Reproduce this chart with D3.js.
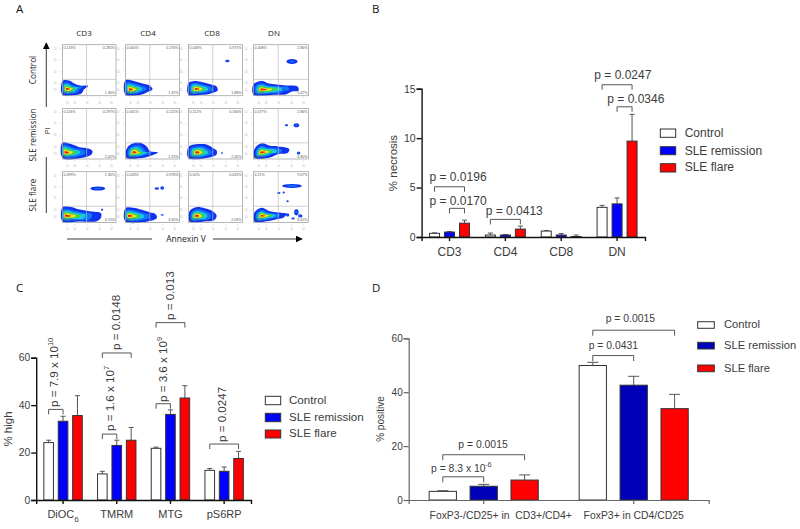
<!DOCTYPE html>
<html><head><meta charset="utf-8">
<script src="https://cdnjs.cloudflare.com/ajax/libs/d3/7.8.5/d3.min.js"></script>
<style>html,body{margin:0;padding:0;background:#fff}svg{display:block}text{font-family:"Liberation Sans",Arial,sans-serif}</style>
</head><body><svg id="c" width="800" height="529"></svg>
<script>
const series = ["Control","SLE remission","SLE flare"];

// Panel B
const bGroups = ["CD3","CD4","CD8","DN"];
const bValues = [[0.37,0.5,1.4],[0.2,0.2,0.8],[0.6,0.2,0.05],[3.0,3.35,9.7]];
const bErrors = [[0.42,0.55,1.7],[0.4,0.25,1.1],[0.65,0.35,0.2],[3.2,3.95,12.4]];
const bTicks = [0,5,10,15];
const bBrackets = [
 ["CD3",0,2,5.08,"p = 0.0196"],["CD3",1,2,2.9,"p = 0.0170"],["CD4",0,2,1.78,"p = 0.0413"],
 ["DN",0,2,15.4,"p = 0.0247"],["DN",1,2,13.17,"p = 0.0346"]];

// Panel C
const cGroups = ["DiOC","TMRM","MTG","pS6RP"];
const cValues = [[24.2,33.2,35.6],[11,23,25.2],[21.8,36.1,43],[12.5,12.1,17.5]];
const cErrors = [[25.2,35.3,44],[12.1,25.2,30.6],[22.3,38,48.2],[13.3,13.9,20.5]];
const cTicks = [0,20,40,60];
const cBrackets = [
 ["DiOC",0,1,38.2,"p = 7.9 x 10","10"],["TMRM",0,1,27.8,"p = 1.6 x 10","7"],["TMRM",0,2,62,"p = 0.0148",""],
 ["MTG",0,1,40.6,"p = 3.6 x 10","9"],["MTG",0,2,74.8,"p = 0.013",""],["pS6RP",0,2,23.6,"p = 0.0247",""]];

// Panel D
const dGroups = ["FoxP3-/CD25+ in  CD3+/CD4+","FoxP3+ in CD4/CD25"];
const dValues = [[3.2,5.1,7.4],[49.9,42.6,33.9]];
const dErrors = [[3.45,5.8,9.3],[51.1,45.9,39.2]];
const dTicks = [0,20,40,60];
const dBrackets = [
 [dGroups[0],0,2,16.8,"p = 0.0015",""],[dGroups[0],0,1,8.6,"p = 8.3 x 10","-6"],
 [dGroups[1],0,2,63,"p = 0.0015",""],[dGroups[1],0,1,53.6,"p = 0.0431",""]];

// Panel A
const aCols = ["CD3","CD4","CD8","DN"];
const aRows = ["Control","SLE remission","SLE flare"];
const aPercents = [
 [["0.133%","0.282%","1.36%","98.2%"],["0.060%","0.276%","1.32%","98.3%"],["0.048%","0.971%","1.88%","97.1%"],["0.408%","2.86%","5.47%","91.3%"]],
 [["0.116%","0.297%","2.02%","97.7%"],["0.061%","0.225%","1.19%","98.6%"],["0.112%","0.166%","2.30%","97.4%"],["0.477%","2.86%","6.80%","89.9%"]],
 [["0.099%","1.36%","3.70%","94.9%"],["0.028%","0.976%","3.30%","96.2%"],["0.00%","0.032%","2.03%","97.9%"],["4.21%","9.07%","8.42%","78.3%"]]];
const aOutlines = [
 [[[0,29],[12,30],[22,24],[33,20],[48,19],[40,12],[36,5],[28,2],[0,2]],
  [[0,31],[12,30],[25,26],[35,23],[45,20],[50,12],[40,7],[28,2],[0,2]],
  [[0,25],[12,29],[28,26],[42,22],[52,18],[54,10],[40,4],[25,2],[0,2]],
  [[0,22],[15,29],[28,24],[42,22],[60,20],[80,18],[82,10],[70,8],[60,3],[40,2],[0,2]]],
 [[[0,33],[15,30],[30,24],[48,21],[56,16],[54,9],[40,3],[0,2]],
  [[2,20],[12,30],[28,32],[40,24],[45,16],[60,13],[45,6],[30,2],[2,2]],
  [[0,24],[14,29],[32,29],[45,22],[52,17],[52,9],[38,3],[0,2]],
  [[2,20],[15,31],[30,26],[45,25],[65,20],[62,12],[45,10],[30,3],[2,2]]],
 [[[0,30],[14,31],[30,26],[50,22],[72,18],[72,10],[65,3],[30,2],[0,2]],
  [[0,28],[14,29],[30,25],[45,20],[56,16],[58,9],[45,3],[0,2]],
  [[2,22],[14,30],[30,28],[45,22],[52,14],[48,5],[30,2],[2,2]],
  [[2,20],[15,29],[30,22],[50,19],[60,17],[55,10],[40,6],[28,3],[2,2]]]];
const aHot = [[[8,13],[8,12],[14,13],[15,12]],[[5,13],[15,13],[15,13],[14,13]],[[6,13],[6,13],[14,13],[15,13]]];
const aBlobs = [
 [[],[],[[72,68,4,2.5]],[[70,67,10,5]]],
 [[],[],[[62,12,2,1.5]],[[60,67,3,2],[78,67,5,4],[82,12,3,3]]],
 [[[66,67,14,4],[74,25,2,2]],[[58,67,4,2.5],[68,68,3.5,3.5],[68,15,3,1]],[],
  [[70,72,18,4],[46,58,3,2],[55,59,2,2],[62,42,2,2],[78,20,4,6],[72,8,3,2],[85,13,4,3],[62,15,3,3]]]];
const aVertical = [45,45,45,45];
const aHorizontal = [32,32,32,32];
const aAxisTicks = [8,22,45,68,90];

const densityLevels = [1,0.74,0.55,0.42,0.28,0.14];
const densityColors = ["#1030f0","#1078f5","#1cc8e8","#3ed24a","#f2e41c","#ea1c14"];
const BLUE="#0000ff", BLUE_D="#0000b8", RED="#ff0000";

const svg = d3.select("#c");
const defs = svg.append("defs");
defs.append("filter").attr("id","soft").attr("x","-10%").attr("y","-10%").attr("width","120%").attr("height","120%")
  .append("feGaussianBlur").attr("stdDeviation",0.55);
const marker = defs.append("marker").attr("id","arrow").attr("viewBox","0 0 10 10").attr("refX",9).attr("refY",5)
  .attr("markerWidth",7).attr("markerHeight",7).attr("markerUnits","userSpaceOnUse").attr("orient","auto");
marker.append("path").attr("d","M0,0L10,5L0,10Z").attr("fill","#000");

function label(t,x,y,o={}){
  const e=svg.append("text").attr("x",x).attr("y",y).text(t)
   .attr("font-size",o.size||12).attr("fill",o.fill||"#3c3c3c").attr("text-anchor",o.anchor||"start");
  if(o.family) e.style("font-family",o.family);
  if(o.rot) e.attr("transform",`rotate(-90 ${x} ${y})`);
  return e;
}
const OS='"Open Sans",sans-serif';
[["A",16,13],["B",372,12.5],["C",16,292],["D",372,292]].forEach(d=>label(d[0],d[1],d[2],{size:11.5,family:OS,fill:"#111"}));

/* ---------- Panel A ---------- */
const colX=[[62.5,116],[125.5,179.5],[188.5,242.5],[253.5,308.5]];
const rowY=[[44.7,95.7],[108.5,159],[171.7,222.5]];
aCols.forEach((c,i)=>label(c,[84,148,212,274][i],35.5,{size:8,family:OS,anchor:"middle",fill:"#222"}));
aRows.forEach((r,i)=>label(r,36,[70,135,195][i],{size:8.2,family:OS,anchor:"middle",rot:true,fill:"#222"}));
label("PI",49.5,131,{size:7.5,family:OS,anchor:"middle",rot:true,fill:"#222"});
label("Annexin V",186,241.5,{size:8.5,family:OS,anchor:"middle",fill:"#222"});
const lineSeg=(x1,y1,x2,y2,arrow)=>{const l=svg.append("line").attr("x1",x1).attr("y1",y1).attr("x2",x2).attr("y2",y2)
   .attr("stroke","#222").attr("stroke-width",0.9); if(arrow) l.attr("marker-end","url(#arrow)");};
lineSeg(46.3,107,46.3,43,true); lineSeg(46.3,213,46.3,157,false);
lineSeg(67,239,152,239,false); lineSeg(213,239,302,239,true);

aRows.forEach((r,ri)=>aCols.forEach((c,ci)=>{
  const x=d3.scaleLinear().domain([0,100]).range(colX[ci]);
  const y=d3.scaleLinear().domain([0,100]).range([rowY[ri][1],rowY[ri][0]]);
  const g=svg.append("g");
  const art=g.append("g").attr("filter","url(#soft)");
  const hot=aHot[ri][ci], outline=aOutlines[ri][ci];
  const path=d3.line().curve(d3.curveCatmullRomClosed.alpha(0.5));
  densityLevels.forEach((k,li)=>{
    const pts=outline.map(p=>[x(hot[0]+(p[0]-hot[0])*k),y(hot[1]+(p[1]-hot[1])*k)]);
    art.append("path").attr("d",path(pts)).attr("fill",densityColors[li]);
  });
  aBlobs[ri][ci].forEach(b=>{
    art.append("ellipse").attr("cx",x(b[0])).attr("cy",y(b[1])).attr("rx",x(b[2])-x(0)).attr("ry",y(0)-y(b[3])).attr("fill",densityColors[0]);
    art.append("ellipse").attr("cx",x(b[0])).attr("cy",y(b[1])).attr("rx",(x(b[2])-x(0))*0.5).attr("ry",(y(0)-y(b[3]))*0.4).attr("fill",densityColors[1]);
  });
  g.append("rect").attr("x",x(0)).attr("y",y(100)).attr("width",x(100)-x(0)).attr("height",y(0)-y(100))
    .attr("fill","none").attr("stroke","#a4a4a4").attr("stroke-width",0.8);
  g.append("line").attr("x1",x(aVertical[ci])).attr("x2",x(aVertical[ci])).attr("y1",y(0)).attr("y2",y(100)).attr("stroke","#bcbcbc").attr("stroke-width",0.7);
  g.append("line").attr("x1",x(0)).attr("x2",x(100)).attr("y1",y(aHorizontal[ci])).attr("y2",y(aHorizontal[ci])).attr("stroke","#bcbcbc").attr("stroke-width",0.7);
  const ax=d3.axisBottom(x).tickValues(aAxisTicks).tickSize(1.5).tickFormat(()=>"10");
  const ay=d3.axisLeft(y).tickValues(aAxisTicks.map(v=>v+3)).tickSize(1.5).tickFormat(()=>"10");
  [g.append("g").attr("transform",`translate(0,${y(0)+1.5})`).call(ax),
   g.append("g").attr("transform",`translate(${x(0)-1.5},0)`).call(ay)].forEach(s=>{
     s.select(".domain").remove();
     s.selectAll("line").attr("stroke","#c4c4c4").attr("stroke-width",0.5);
     s.selectAll("text").attr("font-size",2.6).attr("fill","#b4b4b4");
   });
  const q=aPercents[ri][ci], t=(s,tx,ty,a)=>g.append("text").text(s).attr("x",tx).attr("y",ty).attr("text-anchor",a).attr("font-size",3.6).attr("fill","#555");
  t(q[0],x(2),y(100)+4.5,"start"); t(q[1],x(98),y(100)+4.5,"end"); t(q[2],x(98),y(0)-1.5,"end"); t(q[3],x(2),y(0)-1.5,"start");
}));

/* ---------- Bar panels ---------- */
function barPanel(o){
  const g=svg.append("g");
  const x=d3.scaleBand().domain(o.groups).range(o.xRange);
  const inner=d3.scaleBand().domain([0,1,2]).range([0,x.bandwidth()]).paddingInner(1/3).paddingOuter(o.outer);
  const y=d3.scaleLinear().domain(o.domain).range(o.yRange);
  const barX=(gr,s)=>x(gr)+inner(s);
  o.groups.forEach((gr,gi)=>series.forEach((s,si)=>{
    const cx=barX(gr,si)+inner.bandwidth()/2;
    g.append("line").attr("x1",cx).attr("x2",cx).attr("y1",y(o.values[gi][si])).attr("y2",y(o.errors[gi][si])).attr("stroke",o.errColor).attr("stroke-width",1);
    g.append("line").attr("x1",cx-o.cap).attr("x2",cx+o.cap).attr("y1",y(o.errors[gi][si])).attr("y2",y(o.errors[gi][si])).attr("stroke",o.errColor).attr("stroke-width",1);
    g.append("rect").attr("x",barX(gr,si)).attr("width",inner.bandwidth()).attr("y",y(o.values[gi][si]))
      .attr("height",y(0)-y(o.values[gi][si])).attr("fill",o.colors[si]).attr("stroke",o.barStroke).attr("stroke-width",1);
  }));
  const ax=d3.axisBottom(x).tickSize(4).tickPadding(6).tickFormat(o.xFormat||(d=>d));
  const ay=d3.axisLeft(y).tickValues(o.ticks).tickSize(5).tickPadding(1).tickFormat(d3.format("d"));
  const gx=g.append("g").attr("transform",`translate(0,${y(0)})`).call(ax);
  const gy=g.append("g").attr("transform",`translate(${o.xRange[0]},0)`).call(ay);
  [gx,gy].forEach(s=>{
    s.selectAll(".domain,line").attr("stroke",o.axisColor).attr("stroke-width",o.axisWidth);
    s.selectAll("text").attr("fill","#3c3c3c").style("font-family",'"Liberation Sans",Arial,sans-serif');
  });
  gx.selectAll("text").attr("font-size",o.tickSize);
  gy.selectAll("text").attr("font-size",o.yTickSize);
  if(o.afterAxis) o.afterAxis(gx);
  o.brackets.forEach((b,i)=>{
    const x1=barX(b[0],b[1])+inner.bandwidth()/2, x2=barX(b[0],b[2])+inner.bandwidth()/2, yy=y(b[3]);
    g.append("path").attr("d",`M${x1},${yy+o.leg}V${yy}H${x2}V${yy+o.leg}`).attr("fill","none").attr("stroke","#444").attr("stroke-width",0.9);
    const pos=o.textPos[i];
    const t=g.append("text").attr("font-size",o.pSize).attr("fill","#3c3c3c");
    if(o.rotated) t.attr("transform",`translate(${pos[0]},${pos[1]}) rotate(-90)`);
    else t.attr("x",pos[0]).attr("y",pos[1]);
    t.append("tspan").text(b[4]);
    if(b[5]) t.append("tspan").text(b[5]).attr("font-size",o.pSize*0.65).attr("dy",-o.pSize*0.42);
  });
  label(o.yTitle,o.yTitlePos[0],o.yTitlePos[1],{size:o.titleSize,anchor:"middle",rot:true});
  series.forEach((s,i)=>{
    const l=o.legend[i];
    g.append("rect").attr("x",l[0]).attr("y",l[1]).attr("width",l[2]).attr("height",l[3]).attr("fill",o.colors[i]).attr("stroke",o.barStroke).attr("stroke-width",1);
    label(s,l[4],l[5],{size:o.legendSize});
  });
}

barPanel({groups:bGroups,values:bValues,errors:bErrors,ticks:bTicks,brackets:bBrackets,
  xRange:[421.6,645],outer:0.53,domain:[0,15],yRange:[237,88.7],colors:["#fff",BLUE,RED],
  barStroke:"#333",errColor:"#555",cap:2.5,axisColor:"#111",axisWidth:1.4,tickSize:12,yTickSize:10.5,pSize:12,leg:5,
  textPos:[[429.5,181],[429.5,204.7],[485.7,215],[594.3,79],[607.3,102.7]],
  yTitle:"% necrosis",yTitlePos:[397,163],titleSize:11.5,legendSize:12,
  legend:[[660.3,129,15.4,8.3,684.7,137],[660.3,146.7,15.4,8,684.7,155],[660.3,163.7,15.4,8.3,684.7,171]]});

barPanel({groups:cGroups,values:cValues,errors:cErrors,ticks:cTicks,brackets:cBrackets,
  xRange:[36.2,251],outer:0.53,domain:[0,60],yRange:[500,357.7],colors:["#fff",BLUE,RED],
  barStroke:"#333",errColor:"#555",cap:2.5,axisColor:"#111",axisWidth:1.4,tickSize:11,yTickSize:10.3,pSize:11.6,leg:5,rotated:true,
  textPos:[[57.5,407],[113.5,431],[120,350],[167,402],[173.5,320],[226,442]],
  yTitle:"% high",yTitlePos:[12,429],titleSize:11.5,legendSize:11.6,
  afterAxis:gx=>{
    const t=gx.selectAll("text").filter(d=>d==="DiOC");
    t.append("tspan").text("6").attr("font-size",8).attr("dy",4);
  },
  legend:[[265.3,396.3,15.4,8.4,289,404],[265.3,413.3,15.4,8.4,289,421],[265.3,430,15.4,8,289,437]]});

barPanel({groups:dGroups,values:dValues,errors:dErrors,ticks:dTicks,brackets:dBrackets,
  xRange:[408.7,708.7],outer:0.5,domain:[0,60],yRange:[500,338.3],colors:["#fff",BLUE_D,RED],
  barStroke:"#333",errColor:"#555",cap:5.5,axisColor:"#666",axisWidth:1.2,tickSize:10.4,yTickSize:10,pSize:10.4,leg:5.5,
  textPos:[[458.3,447.7],[431,471.7],[605.7,321.7],[588.7,348.7]],
  yTitle:"% positive",yTitlePos:[384,419],titleSize:10,legendSize:11.2,
  afterAxis:gx=>{ gx.selectAll("text").attr("transform",(d,i)=>i===0?"translate(17,2)":"translate(0,2)").style("white-space","pre"); },
  legend:[[697.7,321.7,16.6,6.6,724,328],[697.7,342.3,16.6,6.7,724,349.3],[697.7,365,16.6,6.7,724,371.7]]});
</script></body></html>
